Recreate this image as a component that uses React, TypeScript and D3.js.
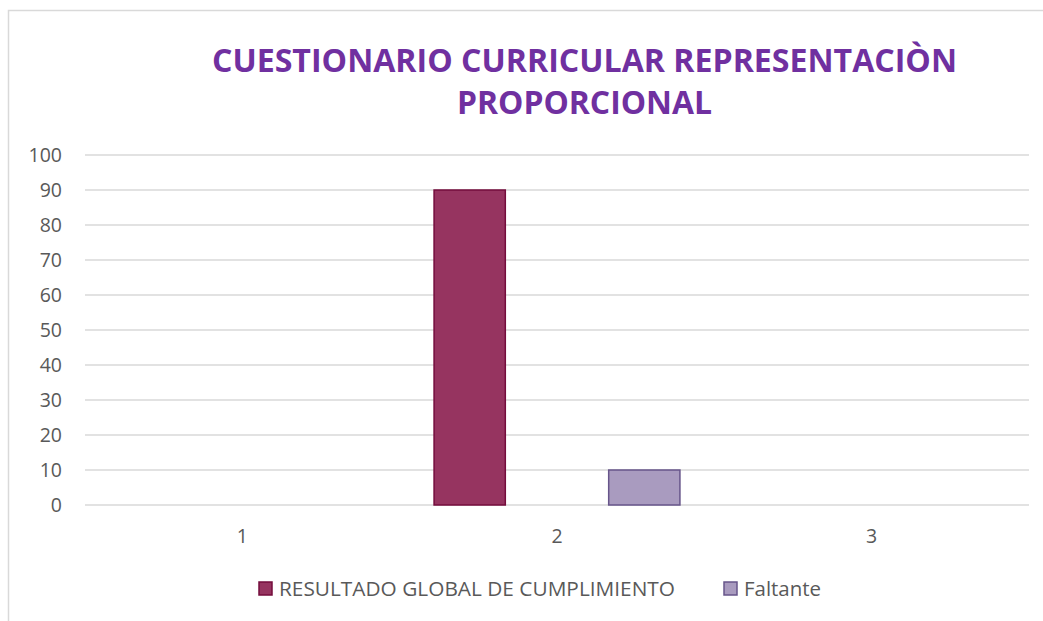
import { useEffect, useRef } from 'react';
import * as d3 from 'd3';

const categories = ['1', '2', '3'];
const seriesNames = ['RESULTADO GLOBAL DE CUMPLIMIENTO', 'Faltante'];
const cumplimiento = [0, 90, 0];
const faltante = [0, 10, 0];
const yTicks = [0, 10, 20, 30, 40, 50, 60, 70, 80, 90, 100];
const titleLines = ['CUESTIONARIO CURRICULAR REPRESENTACIÒN', 'PROPORCIONAL'];

export default function App() {
  const svgRef = useRef<SVGSVGElement>(null);

  useEffect(() => {
    document.body.style.margin = '0';
    const width = 1043;
    const height = 621;
    const left = 85;
    const right = 1029;
    const top = 155;
    const bottom = 505;
    const font = "'Open Sans', 'Liberation Sans', sans-serif";

    const svg = d3.select(svgRef.current)
      .attr('width', width)
      .attr('height', height);
    svg.selectAll('*').remove();

    // cadre du graphique
    svg.append('rect')
      .attr('x', 8.5).attr('y', 10.5)
      .attr('width', 1100).attr('height', 700)
      .attr('fill', '#fff')
      .attr('stroke', '#d9d9d9')
      .attr('stroke-width', 1.5);

    // titre
    svg.selectAll('text.title')
      .data(titleLines)
      .enter().append('text')
      .attr('class', 'title')
      .attr('x', 584.5)
      .attr('y', (d, i) => 72 + i * 42)
      .attr('text-anchor', 'middle')
      .attr('font-family', font)
      .attr('font-weight', 700)
      .attr('font-size', 32)
      .attr('fill', '#7030a0')
      .attr('textLength', (d, i) => (i === 0 ? 745 : 255))
      .attr('lengthAdjust', 'spacingAndGlyphs')
      .text(d => d);

    const x = d3.scaleBand().domain(categories).range([left, right]).padding(0);
    const xs = d3.scaleBand().domain(seriesNames)
      .range([0, x.bandwidth()])
      .paddingInner(0.592)
      .paddingOuter(0.197);
    const y = d3.scaleLinear().domain([0, 100]).range([bottom, top]);

    // grille
    svg.selectAll('line.grid')
      .data(yTicks)
      .enter().append('line')
      .attr('x1', left).attr('x2', right)
      .attr('y1', d => y(d)).attr('y2', d => y(d))
      .attr('stroke', '#d9d9d9')
      .attr('stroke-width', 1.5);

    svg.selectAll('text.ytick')
      .data(yTicks)
      .enter().append('text')
      .attr('x', 62)
      .attr('y', d => y(d))
      .attr('dy', '0.35em')
      .attr('text-anchor', 'end')
      .attr('font-family', font)
      .attr('font-size', 19.5)
      .attr('fill', '#595959')
      .text(d => d);

    svg.selectAll('text.xtick')
      .data(categories)
      .enter().append('text')
      .attr('x', d => (x(d) as number) + x.bandwidth() / 2)
      .attr('y', 536)
      .attr('dy', '0.35em')
      .attr('text-anchor', 'middle')
      .attr('font-family', font)
      .attr('font-size', 19.5)
      .attr('fill', '#595959')
      .text(d => d);

    const series = [
      { name: seriesNames[0], values: cumplimiento, fill: '#963460', stroke: '#740c3c' },
      { name: seriesNames[1], values: faltante, fill: '#a99bbf', stroke: '#67558a' },
    ];

    series.forEach(s => {
      svg.selectAll(null)
        .data(s.values.map((v, i) => ({ v, c: categories[i] })))
        .enter().append('rect')
        .attr('x', d => (x(d.c) as number) + (xs(s.name) as number))
        .attr('y', d => y(d.v))
        .attr('width', xs.bandwidth())
        .attr('height', d => y(0) - y(d.v))
        .attr('fill', s.fill)
        .attr('stroke', s.stroke)
        .attr('stroke-width', 1.5);
    });

    // légende
    const legendX = [259, 724];
    const legendLen = [396, 77];
    series.forEach((s, i) => {
      svg.append('rect')
        .attr('x', legendX[i]).attr('y', 582)
        .attr('width', 13).attr('height', 13)
        .attr('fill', s.fill)
        .attr('stroke', s.stroke)
        .attr('stroke-width', 1.5);
      svg.append('text')
        .attr('x', legendX[i] + 20)
        .attr('y', 589)
        .attr('dy', '0.35em')
        .attr('font-family', font)
        .attr('font-size', 19.5)
        .attr('fill', '#595959')
        .attr('textLength', legendLen[i])
        .attr('lengthAdjust', 'spacingAndGlyphs')
        .text(s.name);
    });
  }, []);

  return <svg ref={svgRef} style={{ display: 'block' }}></svg>;
}
